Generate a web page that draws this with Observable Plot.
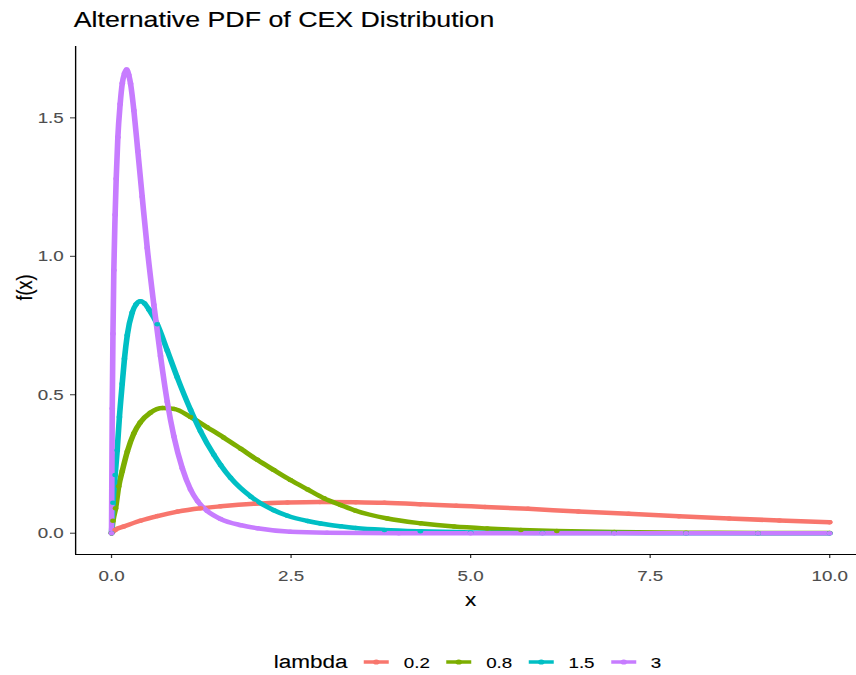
<!DOCTYPE html>
<html>
<head>
<meta charset="utf-8">
<script src="https://cdn.jsdelivr.net/npm/d3@7"></script>
<script src="https://cdn.jsdelivr.net/npm/@observablehq/plot@0.6"></script>
<style>
html, body { margin: 0; padding: 0; background: #fff; overflow: hidden; width: 856px; height: 675px; }
#wrap { position: absolute; left: 0; top: 0; width: 700px; height: 675px; transform: scaleX(1.25); transform-origin: 0 0; font-family: Arial, "Liberation Sans", sans-serif; }
#title { position: absolute; left: 59px; top: 10px; font-size: 21.4px; line-height: 21.4px; color: #000; white-space: nowrap; -webkit-text-stroke: 0.15px #000; }
#chart { position: absolute; left: 0; top: 40px; }
#legend { position: absolute; left: 219px; top: 651px; height: 22px; display: flex; align-items: center; white-space: nowrap; }
#legend .ttl { font-size: 18px; line-height: 18px; color: #000; margin-right: 12px; -webkit-text-stroke: 0.12px #000; }
#legend .lab { font-size: 15px; line-height: 15px; color: #000; margin-left: 11px; margin-right: 12px; -webkit-text-stroke: 0.12px #000; }
#legend svg { display: block; }
#chart g[aria-label="x-axis tick label"], #chart g[aria-label="y-axis tick label"] { stroke: #4D4D4D; stroke-width: 0.12px; }
#chart g[aria-label="text"] { stroke: #000; stroke-width: 0.12px; }
</style>
</head>
<body>
<div id="wrap">
  <div id="title">Alternative PDF of CEX Distribution</div>
  <div id="chart"></div>
  <div id="legend"></div>
</div>
<script>
// ---- data ----
const lambdas = ["0.2", "0.8", "1.5", "3"];
const palette = ["#F8766D", "#7CAE00", "#00BFC4", "#C77CFF"];
const xTicks = [0, 2.5, 5, 7.5, 10];
const yTicks = [0, 0.5, 1, 1.5];

const x_02 = [0, 0.05, 0.17, 0.4, 0.64, 0.92, 1.24, 1.52, 1.98, 2.45, 2.9, 3.4, 3.8, 4.3, 4.8, 5.2, 5.8, 6.5, 7.2, 7.9, 8.6, 9.3, 10];
const y_02 = [0, 0.012, 0.024, 0.045, 0.062, 0.078, 0.090, 0.097, 0.106, 0.111, 0.113, 0.112, 0.110, 0.105, 0.099, 0.095, 0.088, 0.078, 0.070, 0.061, 0.053, 0.046, 0.040];

const x_08 = [0, 0.02, 0.056, 0.1, 0.15, 0.22, 0.31, 0.4, 0.54, 0.71, 0.87, 1.1, 1.33, 1.56, 1.8, 2.03, 2.26, 2.49, 2.73, 2.96, 3.19, 3.4, 3.84, 4.3, 4.77, 5.23, 5.7, 6.2, 7, 8, 9, 10];
const y_08 = [0, 0.045, 0.09, 0.17, 0.225, 0.295, 0.36, 0.40, 0.435, 0.452, 0.449, 0.42, 0.383, 0.346, 0.305, 0.265, 0.228, 0.192, 0.158, 0.126, 0.102, 0.081, 0.053, 0.036, 0.024, 0.017, 0.012, 0.008, 0.004, 0.002, 0.001, 0.0005];

const x_15 = [0, 0.02, 0.05, 0.079, 0.11, 0.149, 0.18, 0.219, 0.288, 0.34, 0.404, 0.46, 0.52, 0.636, 0.776, 0.915, 1.1, 1.24, 1.425, 1.52, 1.657, 1.94, 2.26, 2.45, 2.73, 2.91, 3.19, 3.4, 3.8, 4.3, 5, 6, 7, 8, 9, 10];
const y_15 = [0, 0.11, 0.21, 0.30, 0.42, 0.54, 0.63, 0.715, 0.797, 0.826, 0.838, 0.83, 0.808, 0.755, 0.66, 0.563, 0.446, 0.368, 0.283, 0.246, 0.200, 0.132, 0.083, 0.063, 0.044, 0.035, 0.025, 0.019, 0.012, 0.007, 0.003, 0.001, 0.0004, 0.0001, 0, 0];

const x_3 = [0, 0.01, 0.02, 0.032, 0.05, 0.065, 0.088, 0.12, 0.15, 0.18, 0.21, 0.24, 0.265, 0.311, 0.366, 0.427, 0.497, 0.589, 0.682, 0.776, 0.868, 0.985, 1.1, 1.2, 1.333, 1.52, 1.8, 2.03, 2.49, 3, 4, 5, 6, 7, 8, 9, 10];
const y_3 = [0, 0.45, 0.72, 0.95, 1.15, 1.28, 1.43, 1.55, 1.625, 1.66, 1.675, 1.655, 1.623, 1.527, 1.38, 1.215, 1.03, 0.825, 0.64, 0.475, 0.35, 0.235, 0.158, 0.115, 0.08, 0.051, 0.029, 0.018, 0.005, 0.0015, 0.0002, 0, 0, 0, 0, 0, 0];

const seriesX = [x_02, x_08, x_15, x_3];
const seriesY = [y_02, y_08, y_15, y_3];

const rows = lambdas.flatMap((lam, i) => seriesX[i].map((xv, j) => ({lambda: lam, x: xv, y: seriesY[i][j]})));

const W = 700, H = 585;
const chart = Plot.plot({
  width: W,
  height: H,
  marginLeft: 60,
  marginRight: 8,
  marginTop: 6,
  marginBottom: 71,
  style: {background: "white", fontFamily: "Arial, 'Liberation Sans', sans-serif", overflow: "visible"},
  x: {domain: [-0.5, 10.5]},
  y: {domain: [-0.0769, 1.7577]},
  color: {domain: lambdas, range: palette},
  marks: [
    Plot.axisX({ticks: xTicks, tickFormat: d3.format(".1f"), tickSize: 4, tickPadding: 12, fontSize: 15, stroke: "#333333", fill: "#4D4D4D", label: null}),
    Plot.axisY({ticks: yTicks, tickFormat: d3.format(".1f"), tickSize: 4, tickPadding: 5.5, fontSize: 15, stroke: "#333333", fill: "#4D4D4D", label: null}),
    Plot.ruleX([-0.5], {stroke: "#000", strokeWidth: 1.1}),
    Plot.ruleY([-0.0769], {stroke: "#000", strokeWidth: 1.1}),
    Plot.line(rows, {x: "x", y: "y", z: "lambda", stroke: "lambda", strokeWidth: 4.5, curve: "monotone-x", strokeLinejoin: "round", strokeLinecap: "round"}),
    Plot.dot(rows, {x: "x", y: "y", fill: "lambda", r: 2.25}),
    Plot.text(["x"], {frameAnchor: "bottom", dy: 51, fontSize: 18, fill: "#000"}),
    Plot.text(["f(x)"], {frameAnchor: "left", rotate: -90, dx: -40.5, fontSize: 18, fill: "#000"})
  ]
});
document.getElementById("chart").appendChild(chart);

// legend built from the same arrays
const legend = d3.select("#legend");
legend.append("span").attr("class", "ttl").text("lambda");
lambdas.forEach((lam, i) => {
  const s = legend.append("svg").attr("width", 22).attr("height", 10);
  s.append("line").attr("x1", 1).attr("x2", 21).attr("y1", 5).attr("y2", 5)
    .attr("stroke", palette[i]).attr("stroke-width", 3.6);
  s.append("circle").attr("cx", 11).attr("cy", 5).attr("r", 2.6).attr("fill", palette[i]);
  const lab = legend.append("span").attr("class", "lab").text(lam);
  if (i === lambdas.length - 1) lab.style("margin-right", "0px");
});
</script>
</body>
</html>
